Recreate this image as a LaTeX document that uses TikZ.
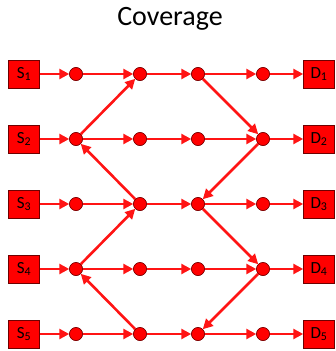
\documentclass[tikz,border=0pt]{standalone}
\usepackage{fontspec}
\setmainfont{Carlito}
\usetikzlibrary{arrows.meta}
\definecolor{netred}{RGB}{255,20,20}
\definecolor{edge}{RGB}{110,0,0}
\tikzset{
  endbox/.style={draw=edge, line width=0.5pt, fill=red, minimum width=31pt, minimum height=28pt, inner sep=0pt, font=\fontsize{17}{19}\selectfont},
  relay/.style={circle, draw=edge, line width=0.5pt, fill=red, minimum size=13pt, inner sep=0pt},
  link/.style={draw=netred, line width=2.6pt, -{Triangle[length=10pt,width=10pt]}},
}
\begin{document}
\begin{tikzpicture}[x=1pt,y=-1pt]
\useasboundingbox (0,0) rectangle (335,351);
\node[font=\fontsize{28}{32}\selectfont] (title) at (170,19) {Coverage};
\foreach \r/\y in {1/74,2/139,3/204,4/269,5/334}{
  \node[endbox] (S\r) at (24,\y) {S\textsubscript{\r}};
  \node[endbox] (D\r) at (319,\y) {D\textsubscript{\r}};
  \node[relay] (c\r1) at (76,\y) {};
  \node[relay] (c\r2) at (140,\y) {};
  \node[relay] (c\r3) at (198,\y) {};
  \node[relay] (c\r4) at (263,\y) {};
}
\foreach \r in {1,...,5}{
  \draw[link] (S\r) -- (c\r1);
  \draw[link] (c\r1) -- (c\r2);
  \draw[link] (c\r2) -- (c\r3);
  \draw[link] (c\r3) -- (c\r4);
  \draw[link] (c\r4) -- (D\r);
}
% crossing links between neighbouring rows
\draw[link] (c21) -- (c12);
\draw[link] (c13) -- (c24);
\draw[link] (c32) -- (c21);
\draw[link] (c24) -- (c33);
\draw[link] (c41) -- (c32);
\draw[link] (c33) -- (c44);
\draw[link] (c52) -- (c41);
\draw[link] (c44) -- (c53);
% redraw relays on top of the links
\foreach \r/\y in {1/74,2/139,3/204,4/269,5/334}{
  \foreach \c/\x in {1/76,2/140,3/198,4/263}{
    \node[relay] at (\x,\y) {};
  }
}
\end{tikzpicture}
\end{document}
